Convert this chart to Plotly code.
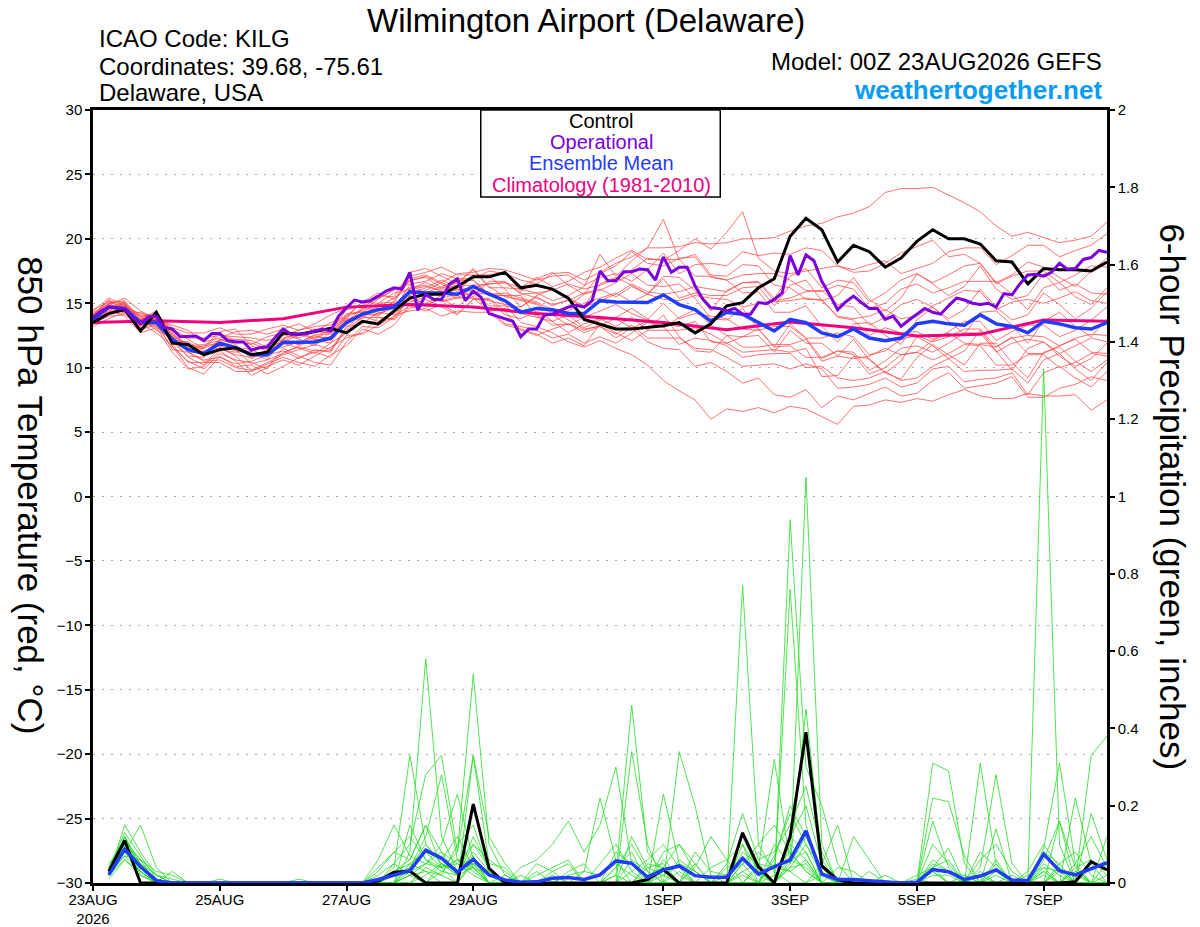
import plotly.graph_objects as go
import pandas as pd

# time grids (6-hourly GEFS, 3-hourly operational, daily climatology)
t6 = pd.date_range("2026-08-23 00:00", "2026-09-08 00:00", freq="6h")
t3 = pd.date_range("2026-08-23 00:00", "2026-09-08 00:00", freq="3h")
tday = pd.date_range("2026-08-23 00:00", "2026-09-08 00:00", freq="1D")
tp = t6[1:]  # 6-hour precipitation ends at 06Z on the first day

tick_dates = ["2026-08-23", "2026-08-25", "2026-08-27", "2026-08-29",
              "2026-09-01", "2026-09-03", "2026-09-05", "2026-09-07"]
tick_labels = ["23AUG<br>2026", "25AUG", "27AUG", "29AUG", "1SEP", "3SEP", "5SEP", "7SEP"]

# ---- 850 hPa temperature (deg C) ----
control_t = [13.5, 14.2, 14.5, 12.85, 14.3, 11.9, 11.8, 11.0, 11.4, 11.55,
             11.0, 11.2, 12.7, 12.6, 12.8, 13.05, 12.7, 13.6, 13.4, 14.4,
             15.4, 15.7, 15.7, 16.3, 17.05, 17.05, 17.4, 16.2, 16.4, 16.1,
             15.4, 13.75, 13.4, 13.0, 13.0, 13.1, 13.25, 13.5, 12.7, 13.4,
             14.8, 15.05, 16.2, 16.9, 20.2, 21.6, 20.7, 18.2, 19.5, 19.0,
             17.8, 18.5, 19.8, 20.7, 20.0, 20.0, 19.6, 18.3, 18.2, 16.5,
             17.7, 17.6, 17.6, 17.5, 18.2]
mean_t = [13.75, 14.7, 14.6, 13.5, 13.5, 12.2, 11.4, 11.1, 11.9, 11.55,
          11.0, 11.0, 11.95, 11.95, 12.0, 12.3, 13.5, 14.15, 14.5, 14.7,
          15.9, 15.8, 15.8, 15.7, 16.3, 15.7, 15.2, 14.3, 14.6, 14.5,
          14.2, 14.2, 15.2, 15.1, 15.05, 15.05, 15.65, 14.9, 14.5, 13.6,
          14.3, 14.15, 13.5, 12.85, 13.75, 13.5, 12.7, 12.4, 13.0, 12.3,
          12.1, 12.3, 13.4, 13.6, 13.4, 13.3, 14.1, 13.4, 13.2, 12.7,
          13.6, 13.4, 13.1, 13.0, 13.5]
oper_t = [13.9, 14.4, 14.7, 14.6, 14.55, 13.9, 13.4, 13.95, 14.0, 13.1,
          13.0, 12.4, 12.4, 12.45, 12.1, 12.65, 12.65, 12.1, 12.0, 12.0,
          11.35, 11.55, 11.6, 12.35, 13.0, 12.6, 12.6, 12.65, 12.85, 13.0,
          12.85, 14.0, 14.65, 15.25, 15.1, 15.2, 15.55, 15.95, 16.2, 16.1,
          17.4, 14.45, 15.7, 15.3, 15.3, 16.5, 16.9, 15.2, 15.95, 15.45,
          14.2, 14.0, 13.75, 13.6, 12.4, 13.0, 13.0, 14.1, 14.15, 14.4,
          14.7, 14.85, 14.7, 15.2, 17.5, 16.75, 16.75, 17.45, 17.45, 17.65,
          17.6, 16.8, 18.6, 17.4, 17.8, 17.8, 16.35, 15.3, 14.65, 14.6,
          14.4, 14.6, 14.15, 14.15, 15.05, 14.97, 15.3, 15.8, 18.7, 17.2,
          18.75, 18.3, 16.7, 15.65, 14.5, 15.1, 15.55, 15.05, 14.6, 14.6,
          13.75, 14.0, 13.2, 13.7, 14.15, 14.6, 14.3, 14.15, 14.8, 15.4,
          15.25, 15.0, 14.9, 15.0, 14.7, 15.75, 15.65, 16.5, 17.2, 17.25,
          17.1, 17.4, 18.1, 17.65, 17.7, 18.4, 18.55, 19.1, 18.95]
clim_t = [13.5, 13.65, 13.5, 13.8, 14.7, 14.9, 14.7, 14.2, 13.9, 13.5,
          12.95, 13.55, 13.1, 12.45, 12.6, 13.7, 13.6]

t_m01 = [14.1, 15.2, 14.8, 14.1, 13.9, 13.0, 12.3, 12.3, 12.5, 12.4, 12.3, 12.1, 12.5, 12.9, 13.2, 13.3, 13.9, 14.5, 15.3, 16.1, 16.5,
         16.7, 17.3, 16.9, 16.9, 17.5, 17.3, 16.8, 16.5, 17.3, 17.4, 16.8, 17.4, 18.1, 18.6, 19.3, 19.3, 19.4, 19.7, 19.6, 19.7, 20.0, 20.0, 20.1, 20.6,
         21.0, 21.2, 21.7, 22.0, 22.5, 23.6, 23.9, 23.9, 24.0, 23.4, 22.8, 22.1, 21.0, 20.2, 20.5, 20.1, 19.7, 19.9, 20.2, 21.3]
t_m02 = [13.6, 15.0, 15.2, 13.7, 14.3, 12.7, 11.7, 11.8, 12.1, 12.0, 11.9, 11.5, 12.1, 11.8, 12.6, 12.6, 14.2, 14.3, 15.0, 15.1, 16.8,
         17.0, 16.2, 16.6, 17.6, 16.2, 16.2, 16.1, 15.8, 16.0, 16.5, 16.1, 16.4, 16.9, 17.6, 18.5, 18.3, 19.1, 20.0, 19.2, 20.5, 22.1, 18.5, 17.5, 17.3,
         17.5, 17.7, 17.9, 17.4, 17.5, 18.1, 18.9, 19.4, 19.9, 18.6, 18.8, 18.1, 16.6, 17.2, 18.2, 17.8, 17.0, 16.3, 17.5, 18.5]
t_m03 = [14.0, 14.4, 15.0, 13.0, 13.3, 11.6, 10.5, 9.9, 11.1, 10.6, 10.4, 9.9, 11.2, 11.6, 11.3, 11.3, 12.9, 14.0, 13.6, 14.2, 15.1,
         15.5, 15.2, 15.5, 15.4, 15.2, 14.9, 13.5, 13.2, 12.7, 12.0, 11.6, 12.1, 11.5, 11.0, 10.2, 9.0, 8.2, 7.5, 6.0, 6.8, 6.6, 6.9, 6.5, 7.0,
         6.8, 6.2, 5.6, 7.0, 7.1, 7.5, 7.3, 7.6, 7.4, 7.9, 8.3, 7.8, 7.6, 7.6, 8.0, 7.8, 7.8, 7.9, 6.7, 7.5]
t_m04 = [13.4, 14.8, 14.4, 13.8, 14.4, 12.4, 11.2, 10.5, 10.6, 10.0, 9.8, 10.1, 10.6, 10.2, 10.9, 11.6, 12.3, 12.7, 13.9, 13.8, 14.6,
         15.0, 15.6, 16.1, 16.0, 14.8, 14.8, 14.5, 14.1, 13.3, 13.4, 12.7, 13.2, 12.6, 13.3, 12.3, 12.3, 12.3, 11.5, 11.4, 10.8, 10.1, 10.2, 10.3, 9.9,
         10.3, 9.9, 8.4, 8.5, 8.7, 9.2, 8.5, 8.8, 9.9, 10.1, 8.9, 9.1, 9.2, 9.6, 7.9, 9.6, 10.1, 9.2, 8.5, 9.7]
t_m05 = [14.3, 14.9, 15.4, 14.4, 13.8, 13.3, 12.9, 12.0, 12.3, 12.8, 12.9, 12.6, 13.0, 13.4, 12.8, 13.5, 14.0, 15.1, 15.8, 15.3, 16.9,
         17.2, 16.6, 17.3, 17.4, 17.7, 17.6, 17.2, 16.8, 17.1, 17.2, 16.4, 17.0, 17.3, 16.7, 17.6, 18.9, 17.3, 18.0, 18.1, 17.9, 19.0, 18.7, 18.9, 18.8,
         19.3, 19.1, 17.9, 17.6, 18.0, 18.3, 17.3, 17.7, 18.1, 19.0, 19.3, 19.3, 18.0, 18.7, 19.5, 19.5, 18.6, 19.1, 19.5, 20.4]
t_m06 = [13.9, 14.3, 14.5, 14.0, 13.2, 12.6, 11.6, 11.6, 12.8, 13.0, 11.7, 11.3, 12.6, 12.2, 11.7, 12.8, 14.5, 14.8, 14.7, 15.4, 16.2,
         16.4, 15.9, 15.4, 16.2, 16.5, 16.6, 15.8, 15.4, 14.9, 15.2, 15.8, 16.1, 15.5, 16.3, 15.7, 15.3, 15.2, 15.6, 15.4, 15.3, 14.7, 15.0, 15.1, 15.2,
         15.4, 15.2, 14.0, 13.8, 14.0, 14.5, 13.8, 14.0, 14.8, 15.4, 16.0, 15.9, 14.5, 15.1, 15.3, 15.0, 15.4, 15.9, 15.2, 15.0]
t_m07 = [13.5, 14.0, 14.1, 13.4, 12.7, 11.7, 10.0, 9.5, 10.9, 10.1, 10.2, 9.5, 10.1, 10.8, 11.2, 10.8, 12.5, 12.6, 13.3, 14.0, 14.8,
         14.4, 14.9, 14.2, 15.3, 15.3, 14.1, 13.8, 14.4, 13.6, 12.7, 13.4, 13.8, 13.2, 13.9, 12.9, 12.9, 12.9, 13.1, 12.6, 11.9, 11.2, 11.3, 11.4, 11.2,
         11.5, 9.3, 9.4, 10.9, 10.7, 9.6, 9.1, 10.8, 11.8, 11.0, 10.2, 11.9, 11.9, 10.4, 9.2, 11.2, 11.6, 10.5, 9.7, 10.6]
t_m08 = [14.4, 15.4, 14.9, 13.6, 14.1, 13.1, 12.7, 12.7, 13.1, 12.6, 12.6, 13.0, 13.3, 12.9, 13.4, 14.1, 14.6, 14.8, 15.6, 15.5, 17.4,
         17.7, 17.1, 16.5, 17.7, 16.3, 15.5, 15.3, 15.0, 14.3, 14.8, 15.7, 17.3, 17.9, 19.0, 18.1, 17.9, 18.5, 18.6, 17.0, 16.8, 17.2, 17.3, 17.3, 16.8,
         16.0, 15.9, 16.4, 16.1, 14.6, 15.0, 16.1, 16.5, 15.8, 16.2, 16.7, 16.7, 16.7, 15.7, 14.5, 16.2, 16.6, 15.5, 14.9, 16.2]
t_m09 = [13.7, 14.9, 14.2, 14.3, 13.7, 12.0, 10.9, 10.8, 12.2, 11.8, 10.7, 11.4, 11.9, 11.5, 11.1, 11.9, 12.7, 13.9, 13.9, 13.7, 15.5,
         15.7, 15.1, 15.4, 15.4, 14.4, 14.6, 14.2, 13.9, 14.1, 13.3, 13.9, 14.4, 14.9, 14.2, 13.7, 15.0, 13.8, 14.2, 14.0, 13.8, 13.0, 12.9, 13.2, 13.2,
         12.3, 12.3, 12.7, 12.4, 11.0, 11.3, 12.2, 12.5, 12.0, 12.4, 13.0, 13.0, 11.6, 12.3, 12.5, 12.4, 11.7, 12.3, 12.6, 12.5]
t_m10 = [14.2, 14.7, 14.8, 13.2, 14.0, 12.1, 12.0, 11.3, 11.5, 11.0, 10.8, 11.3, 11.6, 12.0, 12.5, 12.1, 13.9, 15.1, 15.0, 15.8, 16.1,
         16.6, 16.1, 16.7, 16.8, 15.7, 15.8, 15.4, 15.1, 14.5, 13.7, 13.0, 13.2, 12.3, 13.1, 12.0, 11.5, 11.4, 10.1, 10.4, 9.7, 8.8, 9.2, 7.9, 7.7,
         8.3, 6.9, 7.8, 7.5, 8.0, 8.5, 7.8, 8.0, 9.0, 9.6, 8.4, 8.6, 8.8, 9.3, 7.7, 7.7, 8.4, 8.7, 9.3, 9.0]
t_m11 = [14.0, 15.1, 14.7, 14.2, 14.0, 12.5, 11.2, 11.2, 11.7, 11.3, 11.2, 10.6, 11.1, 11.7, 12.2, 12.9, 13.7, 14.2, 14.1, 15.0, 15.7,
         16.2, 16.8, 16.3, 16.4, 16.5, 16.6, 16.2, 17.0, 16.3, 16.7, 17.4, 17.8, 18.5, 19.1, 18.4, 18.4, 18.4, 18.8, 17.2, 17.1, 18.0, 17.9, 16.4, 16.2,
         15.3, 15.3, 13.9, 13.7, 12.5, 13.1, 12.7, 12.8, 12.2, 12.8, 13.6, 13.6, 12.1, 12.8, 13.3, 13.3, 12.4, 12.9, 13.7, 14.7]
t_m12 = [13.3, 14.5, 14.0, 12.7, 13.1, 11.2, 9.9, 10.1, 11.3, 10.5, 9.4, 10.0, 11.5, 10.9, 10.4, 10.2, 12.0, 13.2, 13.1, 13.9, 15.5,
         14.9, 15.3, 14.7, 15.9, 15.9, 14.9, 14.7, 15.5, 14.8, 15.3, 14.7, 15.2, 15.7, 16.5, 15.9, 15.7, 15.9, 16.3, 16.1, 15.9, 16.6, 16.7, 15.4, 17.1,
         17.7, 16.2, 16.8, 16.6, 15.1, 15.8, 16.8, 17.3, 16.6, 17.2, 17.9, 18.1, 16.5, 17.1, 17.5, 17.5, 16.6, 17.2, 17.9, 17.8]
t_m13 = [13.8, 14.2, 14.9, 13.9, 12.9, 12.3, 10.8, 10.2, 11.6, 10.9, 9.8, 10.4, 11.0, 11.4, 11.8, 11.4, 13.1, 14.2, 14.0, 14.9, 15.3,
         14.8, 15.4, 15.7, 15.7, 14.5, 13.4, 13.2, 12.9, 12.3, 12.6, 11.9, 12.4, 11.9, 12.7, 13.5, 13.2, 11.8, 12.3, 12.1, 11.7, 10.8, 11.0, 11.1, 11.1,
         10.0, 10.1, 9.2, 9.0, 9.2, 9.7, 9.0, 9.2, 10.1, 10.7, 9.7, 9.8, 9.8, 9.9, 8.8, 10.6, 11.1, 9.9, 9.0, 10.4]
t_m14 = [14.1, 15.3, 14.3, 13.7, 14.2, 12.8, 12.2, 11.5, 12.6, 12.1, 11.8, 12.4, 12.7, 12.3, 12.8, 12.7, 13.3, 14.6, 14.5, 15.1, 17.1,
         17.4, 17.8, 17.2, 17.2, 17.2, 17.4, 15.9, 16.9, 17.4, 16.4, 15.7, 16.0, 16.6, 17.3, 16.4, 16.3, 16.5, 15.4, 13.8, 13.7, 14.6, 13.0, 11.6, 13.4,
         12.3, 10.7, 11.3, 11.2, 9.8, 10.5, 11.5, 11.7, 11.2, 11.9, 12.7, 12.7, 11.2, 11.9, 12.2, 12.0, 11.1, 11.7, 12.3, 12.0]
t_m15 = [13.6, 14.6, 15.0, 13.1, 13.6, 11.9, 11.7, 11.0, 11.4, 11.2, 11.3, 11.8, 12.2, 12.6, 12.2, 11.9, 13.7, 13.8, 14.8, 14.7, 15.6,
         16.0, 16.6, 16.1, 15.5, 16.7, 16.7, 15.7, 15.8, 15.2, 15.6, 16.3, 18.8, 17.1, 18.3, 19.3, 21.5, 18.4, 17.1, 17.1, 16.8, 15.8, 15.9, 14.3, 14.3,
         14.8, 13.2, 12.0, 13.4, 13.5, 12.5, 11.8, 13.7, 14.7, 13.6, 12.6, 14.3, 14.4, 13.3, 11.9, 13.6, 14.3, 13.2, 12.4, 13.8]
t_m16 = [13.2, 13.8, 14.3, 13.6, 13.8, 11.8, 10.4, 10.4, 10.4, 9.7, 9.7, 10.3, 10.8, 10.4, 10.1, 11.0, 11.7, 13.0, 12.6, 13.3, 14.9,
         15.3, 14.7, 14.1, 15.3, 15.4, 14.4, 12.9, 12.5, 13.0, 13.4, 12.9, 13.3, 13.8, 13.1, 13.6, 13.4, 13.2, 13.6, 12.0, 11.9, 12.4, 12.5, 11.2, 12.9,
         11.9, 11.9, 10.9, 10.7, 10.9, 11.5, 11.0, 11.2, 12.1, 12.7, 11.9, 11.8, 11.6, 12.4, 11.1, 11.1, 11.7, 12.2, 11.2, 11.1]
t_m17 = [13.9, 15.0, 14.4, 13.3, 13.4, 12.3, 11.4, 11.5, 12.0, 11.6, 11.4, 10.8, 12.3, 12.7, 12.3, 13.1, 13.8, 14.0, 14.9, 14.6, 16.4,
         15.8, 16.3, 16.8, 16.8, 15.6, 15.6, 15.2, 14.9, 14.2, 14.4, 15.0, 15.4, 15.8, 15.1, 15.7, 16.9, 15.4, 15.8, 15.6, 15.6, 16.2, 16.3, 14.8, 16.4,
         16.8, 15.2, 15.6, 17.0, 15.3, 14.4, 15.4, 17.3, 16.5, 15.6, 16.3, 17.9, 16.1, 15.3, 15.6, 17.3, 16.0, 16.5, 15.8, 15.7]
t_m18 = [13.5, 14.7, 15.1, 12.9, 13.5, 11.4, 11.2, 10.6, 10.8, 10.3, 10.5, 11.0, 11.3, 10.7, 11.4, 11.2, 13.2, 13.4, 14.3, 14.1, 14.4,
         14.6, 14.0, 14.4, 14.3, 14.3, 13.3, 13.0, 12.6, 11.9, 12.3, 11.7, 13.4, 12.7, 12.1, 12.9, 14.1, 12.4, 11.3, 11.2, 12.5, 11.6, 11.6, 11.8, 11.8,
         12.2, 10.5, 10.9, 12.2, 10.6, 9.6, 10.5, 12.4, 11.7, 10.7, 11.3, 12.9, 11.3, 9.8, 11.5, 12.0, 10.9, 10.1, 10.7, 11.9]
t_m19 = [14.5, 15.1, 15.1, 13.6, 13.1, 12.4, 11.9, 11.1, 12.2, 12.2, 12.1, 11.6, 12.0, 12.5, 13.0, 12.8, 13.5, 14.7, 15.4, 16.0, 16.7,
         17.1, 16.5, 15.9, 17.1, 17.1, 16.1, 14.7, 15.6, 16.1, 15.4, 14.8, 16.5, 17.0, 16.4, 15.7, 17.1, 17.0, 16.0, 14.4, 16.0, 16.6, 16.6, 15.2, 15.4,
         15.9, 16.0, 14.9, 14.7, 13.3, 13.9, 14.9, 15.3, 14.7, 13.8, 14.5, 16.1, 14.7, 13.7, 14.1, 15.8, 14.9, 13.8, 14.6, 15.9]
t_m20 = [13.7, 14.3, 14.7, 14.0, 13.9, 12.6, 11.5, 11.7, 11.9, 11.4, 10.3, 10.6, 12.2, 11.8, 12.4, 12.3, 14.1, 14.4, 14.2, 14.6, 16.1,
         16.3, 16.0, 16.4, 15.8, 15.7, 15.6, 15.6, 13.9, 13.6, 14.1, 13.1, 13.7, 13.9, 14.6, 13.8, 13.1, 13.9, 14.5, 13.3, 12.5, 12.4, 13.0, 11.6, 11.7,
         10.8, 10.8, 11.3, 11.0, 9.5, 10.0, 11.0, 11.2, 10.6, 11.1, 11.8, 11.7, 10.2, 10.2, 11.0, 11.0, 10.0, 10.4, 11.1, 10.9]

# ---- 6-hour precipitation (inches), 06Z 23AUG .. 00Z 08SEP ----
control_p = [.03, .11, 0, 0, 0, 0, 0, 0, 0, 0, 0, 0, 0, 0, 0, 0,
             0, .005, .028, .031, 0, 0, 0, .204, .038, 0, 0, 0, 0, 0, 0, 0,
             0, 0, .009, .035, 0, 0, 0, 0, .13, .042, 0, .12, .39, .044, .008, 0,
             0, 0, 0, 0, 0, 0, 0, 0, 0, 0, 0, 0, 0, .003, .055, .034]
mean_p = [.021, .087, .042, .006, 0, 0, 0, 0, 0, 0, 0, 0, 0, 0, 0, 0,
          0, .009, .021, .032, .085, .064, .028, .061, .021, .008, .002, .003, .012, .014, .009, .021,
          .057, .051, .015, .034, .044, .019, .015, .015, .064, .023, .042, .06, .135, .023, .009, .009,
          .006, .002, 0, .002, .035, .029, .009, .018, .034, .008, .006, .075, .032, .021, .038, .053]

p_m01 = [.03, .12, .05, 0, 0, 0, 0, 0, 0, 0, 0, 0, 0, 0, 0, 0,
         0, 0, .04, .33, .1, .05, .02, .08, .03, 0, 0, 0, 0, 0, 0, 0,
         .02, .46, .08, .03, 0, 0, 0, 0, .05, 0, 0, .12, .2, .05, 0, 0,
         0, 0, 0, 0, .31, .29, .05, 0, 0, 0, 0, 0, .03, .02, 0, 0]
p_m02 = [.02, .15, .08, .02, 0, 0, 0, 0, 0, 0, 0, 0, 0, 0, 0, 0,
         0, 0, 0, .08, .58, .12, .03, .05, 0, 0, 0, 0, .03, .05, 0, 0,
         0, 0, 0, .23, .05, 0, 0, 0, .77, .1, .03, 0, 0, .02, 0, 0,
         0, 0, 0, 0, 0, 0, 0, .31, .05, 0, 0, .09, .31, .05, 0, 0]
p_m03 = [.05, .1, .06, .03, .02, 0, 0, 0, 0, 0, 0, 0, 0, 0, 0, 0,
         0, .02, .05, .1, .28, .33, .08, .54, .1, .02, 0, 0, 0, 0, 0, 0,
         0, 0, 0, 0, 0, 0, 0, 0, 0, 0, 0, .94, .3, .2, .05, 0,
         0, 0, 0, 0, 0, 0, 0, 0, 0, 0, 0, 1.33, .1, 0, 0, .05]
p_m04 = [.04, .08, .15, .04, 0, 0, 0, 0, 0, 0, 0, 0, 0, 0, 0, 0,
         0, .06, .15, .07, .05, .1, .23, .06, 0, 0, .04, .06, .1, .16, .08, .15,
         .3, .05, 0, .08, .1, .05, 0, 0, 0, .04, .32, .05, 1.05, .1, 0, 0,
         0, 0, 0, 0, .16, .04, 0, 0, 0, 0, 0, 0, 0, .22, .05, 0]
p_m05 = [.02, .07, .03, 0, .03, 0, 0, .01, 0, 0, 0, 0, 0, 0, 0, 0,
         0, 0, 0, .15, .06, .04, 0, .33, .12, .05, 0, 0, 0, 0, 0, 0,
         0, .34, .1, 0, .34, .2, .02, 0, 0, 0, 0, .76, .15, 0, 0, 0,
         0, 0, 0, 0, .22, .21, .07, 0, .14, 0, 0, 0, 0, 0, .33, .38]
p_m06 = [.03, .09, .04, .01, 0, 0, 0, 0, 0, 0, 0, 0, .01, 0, 0, 0,
         0, 0, .02, .03, .08, .06, .12, .04, .02, 0, 0, 0, 0, 0, .03, .22,
         .06, 0, .05, .04, 0, .08, .03, .02, .12, .03, 0, .05, .12, .04, 0, .12,
         .06, 0, 0, 0, 0, 0, 0, .04, .28, .05, 0, 0, .16, .04, 0, 0]
p_m07 = [.02, .11, .02, 0, 0, 0, 0, 0, 0, 0, 0, 0, 0, 0, 0, 0,
         0, 0, 0, 0, .04, .02, 0, .06, .02, 0, 0, .05, .03, 0, 0, 0,
         .04, .08, 0, .06, .02, 0, 0, .05, .18, .06, .08, .15, .25, .08, 0, 0,
         0, 0, 0, 0, .04, .06, 0, 0, 0, .02, 0, .05, .02, 0, 0, .12]
p_m08 = [.01, .06, .03, 0, 0, 0, 0, 0, 0, 0, 0, 0, 0, 0, 0, 0,
         0, 0, .05, .02, 0, .05, .02, .12, .04, 0, 0, 0, 0, 0, 0, 0,
         0, .12, .04, .02, 0, .04, .12, .06, 0, 0, .05, .03, .06, 0, 0, 0,
         0, 0, 0, 0, .05, .03, .02, 0, 0, 0, 0, .06, .16, 0, 0, 0]
p_m09 = [.04, .13, .07, .01, 0, 0, 0, 0, 0, 0, 0, 0, 0, 0, 0, 0,
         0, 0, 0, .04, .12, .28, .06, .03, 0, 0, 0, 0, 0, 0, 0, 0,
         0, 0, 0, 0, 0, 0, 0, 0, .05, .08, .04, .03, 0, .05, .15, 0,
         .03, 0, 0, 0, 0, 0, 0, .08, .04, 0, 0, 0, 0, 0, .18, .06]
p_m10 = [.03, .1, .04, 0, 0, 0, 0, 0, 0, 0, 0, 0, 0, 0, 0, 0,
         0, .03, .08, .06, .15, .04, .08, .33, .05, .04, 0, .02, .04, .06, 0, 0,
         0, 0, 0, 0, .06, .03, 0, 0, .08, .05, 0, .12, .08, 0, 0, 0,
         0, 0, 0, 0, .04, .09, 0, 0, .02, 0, 0, .03, 0, .04, .06, .02]
p_m11 = [.02, .08, .03, 0, 0, 0, 0, 0, 0, 0, 0, 0, 0, 0, 0, 0,
         0, 0, 0, .02, .05, .08, .05, .02, 0, 0, .02, 0, .02, 0, 0, 0,
         .08, .05, .02, .04, .1, .03, 0, 0, 0, 0, .06, .2, .12, .03, 0, 0,
         0, 0, 0, .02, .04, 0, 0, 0, 0, 0, .02, .04, .03, 0, 0, 0]
p_m12 = [.03, .09, .05, .02, 0, 0, 0, 0, 0, 0, 0, 0, 0, 0, 0, 0,
         0, 0, .03, .05, .03, .02, .1, .15, .03, 0, 0, 0, 0, 0, 0, .05,
         .1, .03, 0, 0, 0, 0, 0, .02, .05, .1, .15, .08, .03, 0, 0, 0,
         0, .02, 0, 0, 0, 0, 0, .06, .1, .03, 0, 0, 0, .05, .12, .04]
p_m13 = [.02, .12, .04, 0, 0, 0, 0, 0, 0, 0, 0, 0, 0, 0, 0, 0,
         0, 0, 0, 0, .02, .05, .03, .04, 0, 0, 0, 0, 0, .03, .05, 0,
         0, .03, .06, .1, .04, 0, 0, 0, .03, 0, .1, .05, .45, .06, 0, 0,
         0, 0, 0, 0, .06, .03, 0, 0, 0, 0, 0, 0, .05, .08, .02, 0]
p_m14 = [.03, .07, .06, .02, .01, 0, 0, 0, 0, 0, 0, 0, 0, 0, 0, 0,
         0, .04, .08, .12, .06, .03, .02, .04, 0, 0, 0, 0, 0, 0, 0, 0,
         0, 0, 0, .02, .05, .03, 0, 0, 0, .05, .04, .08, .03, 0, .04, .03,
         0, 0, 0, 0, .03, 0, .02, 0, 0, 0, 0, 0, .04, 0, 0, 0]
p_m15 = [.02, .1, .05, .01, 0, 0, 0, 0, 0, 0, 0, 0, 0, 0, 0, 0,
         0, 0, 0, .03, .05, .04, .05, .1, .06, .03, 0, 0, 0, .02, .03, .02,
         .05, .02, 0, 0, 0, 0, .04, .06, .1, .03, 0, .04, .1, .02, 0, 0,
         0, 0, 0, 0, 0, 0, 0, 0, .03, 0, 0, .04, 0, .03, 0, 0]
p_m16 = [.03, .08, .04, 0, 0, 0, 0, 0, 0, 0, 0, 0, 0, 0, 0, 0,
         0, 0, .02, .04, .1, .05, .03, .07, 0, 0, 0, 0, 0, 0, 0, 0,
         0, 0, .04, .05, 0, 0, 0, 0, 0, 0, .02, .06, .08, 0, 0, 0,
         0, 0, 0, 0, .02, .02, 0, 0, 0, 0, .03, .1, .04, 0, 0, 0]
p_m17 = [.04, .12, .03, 0, 0, 0, 0, 0, 0, 0, 0, 0, 0, 0, 0, 0,
         0, 0, 0, 0, 0, .03, .06, .05, .03, 0, 0, 0, 0, 0, 0, 0,
         0, .06, .03, 0, 0, .05, 0, .04, .06, .02, 0, .1, .06, 0, 0, 0,
         0, 0, 0, .01, 0, 0, 0, .03, 0, 0, 0, .02, 0, .03, 0, .02]
p_m18 = [.02, .06, .02, 0, 0, 0, 0, 0, 0, 0, 0, 0, 0, 0, 0, 0,
         0, 0, 0, .02, .03, 0, 0, .05, .02, 0, 0, 0, 0, 0, 0, 0,
         0, 0, 0, 0, 0, 0, 0, 0, .02, 0, 0, .04, .05, 0, 0, 0,
         0, 0, 0, 0, 0, 0, 0, .02, 0, 0, 0, 0, 0, 0, 0, 0]
p_m19 = [.03, .11, .06, 0, 0, 0, 0, 0, 0, 0, 0, 0, 0, 0, 0, 0,
         0, 0, .03, .06, .15, .08, .02, .1, .04, 0, 0, .03, 0, 0, 0, 0,
         .04, .1, .03, 0, .03, 0, 0, 0, .1, 0, .07, .18, .1, .04, 0, 0,
         0, 0, 0, 0, .1, .05, 0, 0, .06, 0, 0, .08, .05, 0, 0, 0]
p_m20 = [.02, .09, .04, 0, 0, 0, 0, 0, 0, 0, 0, 0, 0, 0, 0, 0,
         0, 0, 0, .05, .08, .04, .06, .04, 0, .02, 0, 0, 0, 0, 0, 0,
         .02, 0, 0, .03, 0, 0, 0, 0, .03, .05, 0, .06, .04, 0, 0, 0,
         0, 0, 0, 0, .03, 0, 0, 0, .05, 0, 0, .03, 0, 0, .04, .05]

temp_members = [t_m01, t_m02, t_m03, t_m04, t_m05, t_m06, t_m07, t_m08, t_m09, t_m10,
                t_m11, t_m12, t_m13, t_m14, t_m15, t_m16, t_m17, t_m18, t_m19, t_m20]
precip_members = [p_m01, p_m02, p_m03, p_m04, p_m05, p_m06, p_m07, p_m08, p_m09, p_m10,
                  p_m11, p_m12, p_m13, p_m14, p_m15, p_m16, p_m17, p_m18, p_m19, p_m20]

RED = "rgba(255,70,70,0.85)"
GREEN = "rgba(40,220,40,0.9)"
BLACK = "#000000"
PURPLE = "#7a00dc"
BLUE = "#1f3cff"
PINK = "#f0007e"
FONT = "Liberation Sans, Arial, Helvetica, sans-serif"

fig = go.Figure()

for m in temp_members:
    fig.add_trace(go.Scatter(x=t6, y=m, mode="lines", line=dict(color=RED, width=0.9),
                             hoverinfo="skip", showlegend=False))

fig.add_trace(go.Scatter(x=tday, y=clim_t, mode="lines", line=dict(color=PINK, width=3),
                         hoverinfo="skip", showlegend=False))
fig.add_trace(go.Scatter(x=t6, y=mean_t, mode="lines", line=dict(color=BLUE, width=3.5),
                         hoverinfo="skip", showlegend=False))
fig.add_trace(go.Scatter(x=t6, y=control_t, mode="lines", line=dict(color=BLACK, width=3),
                         hoverinfo="skip", showlegend=False))
fig.add_trace(go.Scatter(x=t3, y=oper_t, mode="lines", line=dict(color=PURPLE, width=3),
                         hoverinfo="skip", showlegend=False))

for m in precip_members:
    fig.add_trace(go.Scatter(x=tp, y=m, mode="lines", yaxis="y2", line=dict(color=GREEN, width=0.9),
                             hoverinfo="skip", showlegend=False))
fig.add_trace(go.Scatter(x=tp, y=control_p, mode="lines", yaxis="y2", line=dict(color=BLACK, width=3),
                         hoverinfo="skip", showlegend=False))
fig.add_trace(go.Scatter(x=tp, y=mean_p, mode="lines", yaxis="y2", line=dict(color=BLUE, width=3.5),
                         hoverinfo="skip", showlegend=False))

axis_common = dict(showline=True, linecolor="black", linewidth=2.5, ticks="outside",
                   ticklen=5, tickwidth=1.5, tickcolor="black", automargin=False,
                   tickfont=dict(family=FONT, size=15, color="black"), zeroline=False)

fig.update_layout(
    width=1200, height=927,
    margin=dict(l=93, r=93, t=110, b=44),
    paper_bgcolor="white", plot_bgcolor="white",
    font=dict(family=FONT, color="black"),
    showlegend=False,
    xaxis=dict(type="date", range=[t6[0], t6[-1]], tickvals=tick_dates, ticktext=tick_labels,
               showgrid=False, mirror=True, ticklabelstandoff=-4, **axis_common),
    yaxis=dict(range=[-30, 30], tick0=-30, dtick=5, showgrid=True, gridcolor="#aaaaaa",
               griddash="2px,7px", gridwidth=1.3, mirror=True, **axis_common),
    yaxis2=dict(range=[0, 2], tick0=0, dtick=0.2, overlaying="y", side="right",
                showgrid=False, **axis_common),
)

def txt(x, y, s, size, color="black", xanchor="left", bold=False, angle=0, yanchor="middle"):
    fig.add_annotation(x=x, y=y, xref="paper", yref="paper", text=("<b>%s</b>" % s) if bold else s,
                       showarrow=False, xanchor=xanchor, yanchor=yanchor, textangle=angle,
                       font=dict(family=FONT, size=size, color=color))

txt(0.486, 1.1423, "Wilmington Airport (Delaware)", 33, xanchor="center", yanchor="top")
txt(0.004, 1.0919, "ICAO Code: KILG", 24)
txt(0.004, 1.0569, "Coordinates: 39.68, -75.61", 24)
txt(0.004, 1.0220, "Delaware, USA", 24)
txt(0.997, 1.0630, "Model: 00Z 23AUG2026 GEFS", 24, xanchor="right")
txt(0.997, 1.0255, "weathertogether.net", 26, color="#0a9cf5", xanchor="right", bold=True)

# legend box
fig.add_shape(type="rect", xref="paper", yref="paper", x0=0.3824, x1=0.6186, y0=0.8875, y1=1.0,
              line=dict(color="black", width=1.5), fillcolor="white", layer="above")
txt(0.501, 0.9858, "Control", 20, color=BLACK, xanchor="center")
txt(0.501, 0.9586, "Operational", 20, color=PURPLE, xanchor="center")
txt(0.501, 0.9314, "Ensemble Mean", 20, color=BLUE, xanchor="center")
txt(0.501, 0.9030, "Climatology (1981-2010)", 20, color=PINK, xanchor="center")

# axis titles (both read top to bottom)
txt(-0.0623, 0.502, "850 hPa Temperature (red, °C)", 35, xanchor="center", angle=90)
txt(1.0642, 0.500, "6-hour Precipitation (green, inches)", 35, xanchor="center", angle=90)

# drop the default 8px page margin so the figure sits at the window's corner
fig.write_html("out.html", config={"displayModeBar": False},
               post_script="document.body.style.margin='0';")
